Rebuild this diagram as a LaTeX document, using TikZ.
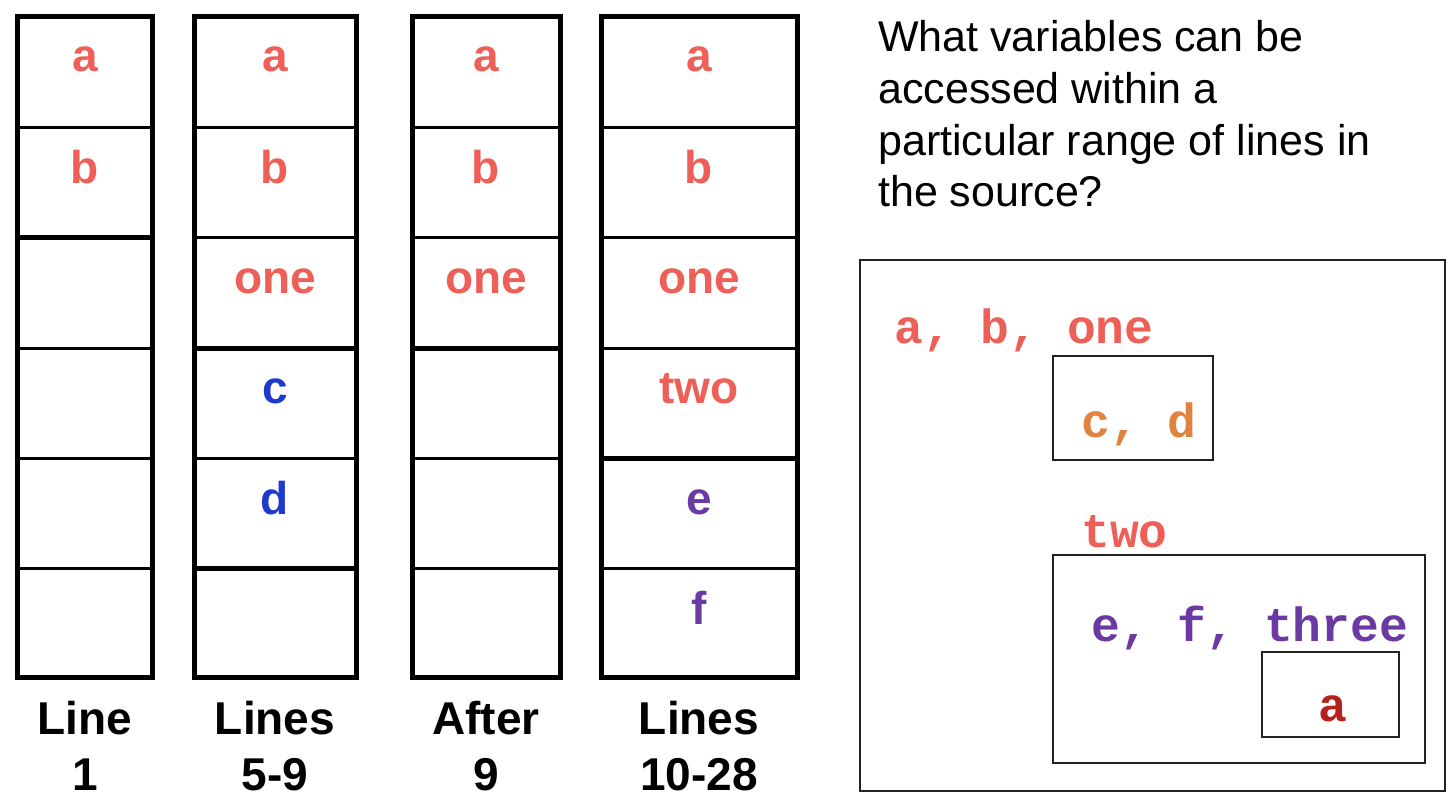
\documentclass[tikz,border=0pt]{standalone}
\usepackage{fontspec}
\setmainfont{Liberation Sans}
\newfontfamily\monof{Liberation Mono}
\definecolor{salmon}{HTML}{EE6057}
\definecolor{blu}{HTML}{1E3ACC}
\definecolor{purp}{HTML}{6A3AA2}
\definecolor{orng}{HTML}{E0833E}
\definecolor{dred}{HTML}{B3231C}
\definecolor{frame}{HTML}{222222}
\tikzset{
  stackframe/.style={line width=5pt, line join=miter},
  cellline/.style={line width=3pt},
  scopeline/.style={line width=5pt},
  cell/.style={inner sep=0pt, anchor=base, font=\fontsize{46}{46}\selectfont\bfseries},
  steplabel/.style={inner sep=0pt, anchor=north, align=center, font=\fontsize{46}{56}\selectfont\bfseries},
  question/.style={inner sep=0pt, anchor=base west, font=\fontsize{43}{43}\selectfont},
  scopebox/.style={draw=frame, line width=2pt},
  code/.style={inner sep=0pt, anchor=base west, font=\fontsize{48}{48}\selectfont\monof\bfseries},
}
\begin{document}
\begin{tikzpicture}[x=1pt,y=-1pt]
\useasboundingbox (0,0) rectangle (1452,800);
% ---- stack 1 ----
\draw[cellline] (17,127) -- (153,127) (17,348) -- (153,348) (17,458) -- (153,458) (17,568) -- (153,568);
\draw[scopeline] (17,237) -- (153,237);
\draw[stackframe] (17.5,16.5) rectangle (152.5,677);
% ---- stack 2 ----
\draw[cellline] (194,127) -- (356,127) (194,237) -- (356,237) (194,458) -- (356,458);
\draw[scopeline] (194,348) -- (356,348) (194,568) -- (356,568);
\draw[stackframe] (194.5,16.5) rectangle (356.5,677);
% ---- stack 3 ----
\draw[cellline] (412,127) -- (560,127) (412,237) -- (560,237) (412,458) -- (560,458) (412,568) -- (560,568);
\draw[scopeline] (412,348) -- (560,348);
\draw[stackframe] (412.5,16.5) rectangle (560,677);
% ---- stack 4 ----
\draw[cellline] (601,127) -- (797,127) (601,237) -- (797,237) (601,348) -- (797,348) (601,568) -- (797,568);
\draw[scopeline] (601,458) -- (797,458);
\draw[stackframe] (601.5,16.5) rectangle (797,677);
% ---- cell contents ----
\node[cell, text=salmon] (s1a) at (85,72) {a};
\node[cell, text=salmon] (s1b) at (85,183) {b};
\node[cell, text=salmon] (s2a) at (275,72) {a};
\node[cell, text=salmon] (s2b) at (275,183) {b};
\node[cell, text=salmon] (s2one) at (275,293) {one};
\node[cell, text=blu] (s2c) at (275,403) {c};
\node[cell, text=blu] (s2d) at (275,514) {d};
\node[cell, text=salmon] (s3a) at (486,72) {a};
\node[cell, text=salmon] (s3b) at (486,183) {b};
\node[cell, text=salmon] (s3one) at (486,293) {one};
\node[cell, text=salmon] (s4a) at (699,72) {a};
\node[cell, text=salmon] (s4b) at (699,183) {b};
\node[cell, text=salmon] (s4one) at (699,293) {one};
\node[cell, text=salmon] (s4two) at (699,403) {two};
\node[cell, text=purp] (s4e) at (699,514) {e};
\node[cell, text=purp] (s4f) at (699,624) {f};
% ---- labels ----
\node[steplabel] (l1) at (85,701) {Line\\1};
\node[steplabel] (l2) at (275,701) {Lines\\5-9};
\node[steplabel] (l3) at (486,701) {After\\9};
\node[steplabel] (l4) at (699,701) {Lines\\10-28};
% ---- question ----
\node[question] (q1) at (878,52) {What variables can be};
\node[question] (q2) at (878,103.5) {accessed within a};
\node[question] (q3) at (878,155) {particular range of lines in};
\node[question] (q4) at (878,206.5) {the source?};
% ---- scope diagram ----
\draw[scopebox] (860,260) rectangle (1445,791);
\draw[scopebox] (1053,356) rectangle (1213,460);
\draw[scopebox] (1053,555) rectangle (1425,763);
\draw[scopebox] (1262,652) rectangle (1399,737);
\node[code, text=salmon] (g1) at (894,343) {a, b, one};
\node[code, text=orng] (g2) at (1081,437) {c, d};
\node[code, text=salmon] (g3) at (1081,547) {two};
\node[code, text=purp] (g4) at (1091,641) {e, f, three};
\node[code, text=dred] (g5) at (1318,721) {a};
\end{tikzpicture}
\end{document}
